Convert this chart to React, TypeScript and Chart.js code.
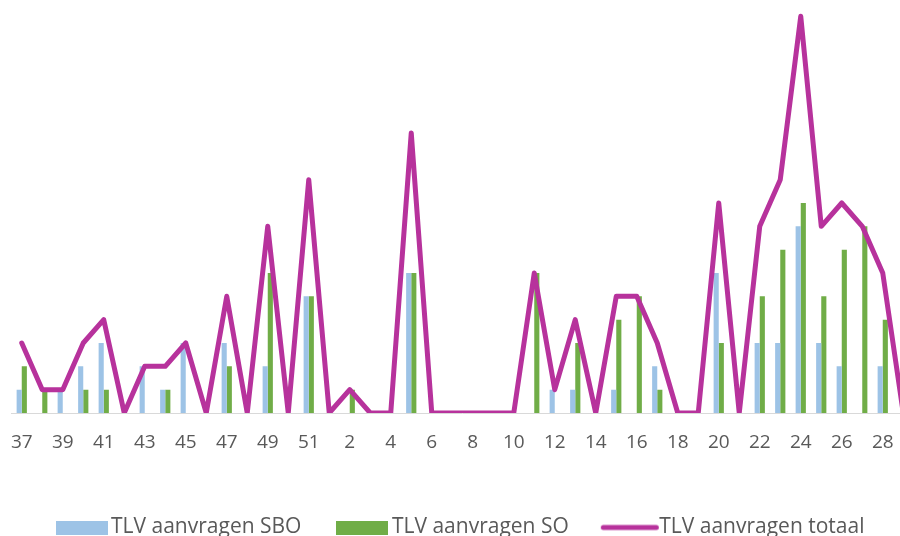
import React, { useEffect, useRef } from "react";
import { Chart, registerables } from "chart.js";

Chart.register(...registerables);

const weeks: string[] = [
  "37", "38", "39", "40", "41", "42", "43", "44", "45", "46", "47", "48", "49", "50", "51", "52",
  "2", "3", "4", "5", "6", "7", "8", "9", "10", "11", "12", "13", "14", "15", "16", "17", "18", "19",
  "20", "21", "22", "23", "24", "25", "26", "27", "28", "29",
];

const sboValues: number[] = [
  1, 0, 1, 2, 3, 0, 2, 1, 3, 0, 3, 0, 2, 0, 5, 0,
  0, 0, 0, 6, 0, 0, 0, 0, 0, 0, 1, 1, 0, 1, 0, 2, 0, 0,
  6, 0, 3, 3, 8, 3, 2, 0, 2, 0,
];

const soValues: number[] = [
  2, 1, 0, 1, 1, 0, 0, 1, 0, 0, 2, 0, 6, 0, 5, 0,
  1, 0, 0, 6, 0, 0, 0, 0, 0, 6, 0, 3, 0, 4, 5, 1, 0, 0,
  3, 0, 5, 7, 9, 5, 7, 8, 4, 0,
];

const totalValues: number[] = [
  3, 1, 1, 3, 4, 0, 2, 2, 3, 0, 5, 0, 8, 0, 10, 0,
  1, 0, 0, 12, 0, 0, 0, 0, 0, 6, 1, 4, 0, 5, 5, 3, 0, 0,
  9, 0, 8, 10, 17, 8, 9, 8, 6, 0,
];

const seriesNames: string[] = ["TLV aanvragen SBO", "TLV aanvragen SO", "TLV aanvragen totaal"];
const seriesColors: string[] = ["#9DC3E6", "#70AD47", "#B7329C"];

function rectIcon(color: string): HTMLCanvasElement {
  const c = document.createElement("canvas");
  c.width = 52;
  c.height = 14;
  const g = c.getContext("2d")!;
  g.fillStyle = color;
  g.fillRect(0, 0, 52, 14);
  return c;
}

function lineIcon(color: string): HTMLCanvasElement {
  const c = document.createElement("canvas");
  c.width = 60;
  c.height = 8;
  const g = c.getContext("2d")!;
  g.strokeStyle = color;
  g.lineWidth = 5;
  g.lineCap = "round";
  g.beginPath();
  g.moveTo(3.5, 4);
  g.lineTo(56.5, 4);
  g.stroke();
  return c;
}

const legendShift = {
  id: "legendShift",
  afterLayout(chart: any) {
    if (chart.legend) {
      chart.legend.left += 1;
      chart.legend.right += 1;
    }
  },
};

export default function App() {
  const canvasRef = useRef<HTMLCanvasElement | null>(null);

  useEffect(() => {
    if (!canvasRef.current) return;
    const icons = [rectIcon(seriesColors[0]), rectIcon(seriesColors[1]), lineIcon(seriesColors[2])];
    const chart = new Chart(canvasRef.current, {
      type: "bar",
      data: {
        labels: weeks,
        datasets: [
          {
            type: "bar",
            label: seriesNames[0],
            data: sboValues,
            backgroundColor: seriesColors[0],
            borderWidth: 0,
            categoryPercentage: 0.5,
            barPercentage: 1.0,
            order: 1,
          } as any,
          {
            type: "bar",
            label: seriesNames[1],
            data: soValues,
            backgroundColor: seriesColors[1],
            borderWidth: 0,
            categoryPercentage: 0.5,
            barPercentage: 1.0,
            order: 1,
          } as any,
          {
            type: "line",
            label: seriesNames[2],
            data: totalValues,
            borderColor: seriesColors[2],
            backgroundColor: seriesColors[2],
            borderWidth: 5,
            borderJoinStyle: "round",
            borderCapStyle: "round",
            tension: 0,
            pointRadius: 0,
            pointHoverRadius: 0,
            fill: false,
            order: 0,
          } as any,
        ],
      },
      options: {
        responsive: false,
        animation: false,
        layout: { padding: { left: 11.5, right: 1.5, top: 0, bottom: 0 } },
        scales: {
          x: {
            offset: true,
            grid: { display: false, drawTicks: false },
            border: { display: true, color: "#D9D9D9", width: 1 },
            ticks: {
              autoSkip: false,
              maxRotation: 0,
              minRotation: 0,
              padding: 18,
              color: "#595959",
              font: { family: "'Open Sans'", size: 19 },
              callback: (_v: any, i: number) => (i % 2 === 0 ? weeks[i] : ""),
            },
            afterFit: (s: any) => {
              s.height = 62;
              s.paddingLeft = 0;
              s.paddingRight = 0;
            },
          },
          y: {
            display: false,
            min: 0,
            max: 17.7,
          },
        },
        plugins: {
          legend: {
            position: "bottom",
            labels: {
              usePointStyle: true,
              pointStyleWidth: 38,
              boxHeight: 14,
              padding: 42,
              color: "#595959",
              font: { family: "'Open Sans'", size: 21 },
              sort: (a: any, b: any) => a.datasetIndex - b.datasetIndex,
              generateLabels: (ch: any) => {
                const items = Chart.defaults.plugins.legend.labels.generateLabels(ch);
                return items.map((it: any) => ({ ...it, pointStyle: icons[it.datasetIndex] }));
              },
            },
          },
          tooltip: { enabled: false },
        },
      } as any,
      plugins: [legendShift],
    });
    return () => chart.destroy();
  }, []);

  return (
    <div
      style={{
        position: "fixed",
        left: 0,
        top: 0,
        width: 900,
        height: 536,
        overflow: "hidden",
        background: "#ffffff",
      }}
    >
      <canvas
        ref={canvasRef}
        width={915}
        height={548}
        style={{ width: 915, height: 548, display: "block" }}
      />
    </div>
  );
}
